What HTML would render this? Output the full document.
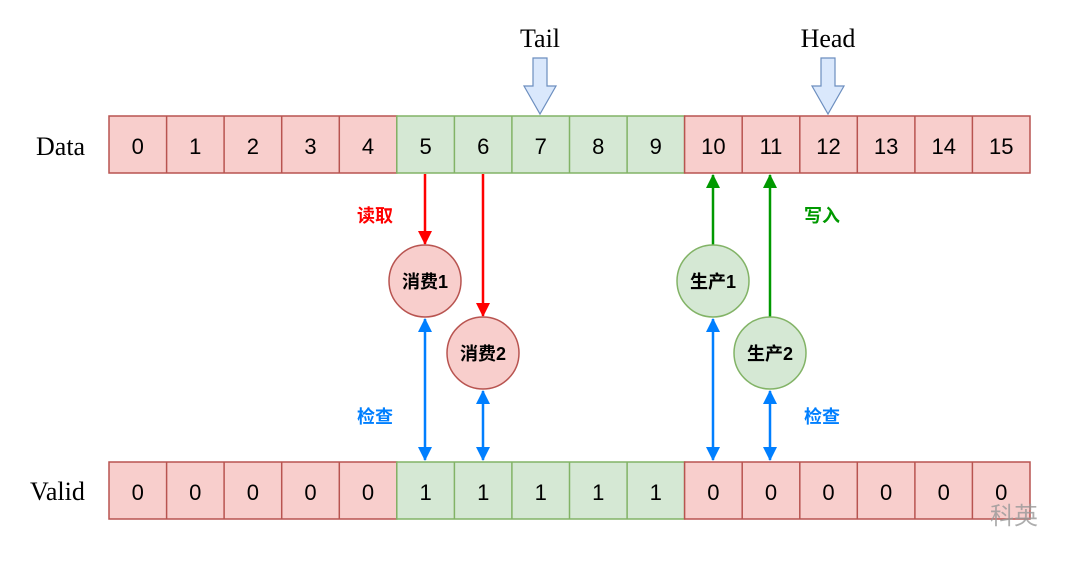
<html><body style="margin:0;background:#fff">
<svg width="1080" height="562" xmlns="http://www.w3.org/2000/svg" font-family="Liberation Sans, Noto Sans CJK SC, sans-serif">
<defs>
<marker id="r" markerWidth="14" markerHeight="14" refX="13" refY="7" orient="auto" markerUnits="userSpaceOnUse"><path d="M0,0 L14,7 L0,14z" fill="#f00"/></marker>
<marker id="g" markerWidth="14" markerHeight="14" refX="13" refY="7" orient="auto" markerUnits="userSpaceOnUse"><path d="M0,0 L14,7 L0,14z" fill="#090"/></marker>
<marker id="b" markerWidth="14" markerHeight="14" refX="13" refY="7" orient="auto-start-reverse" markerUnits="userSpaceOnUse"><path d="M0,0 L14,7 L0,14z" fill="#007fff"/></marker>
</defs>
<g stroke-width="1.5" font-size="22" text-anchor="middle">
<rect x="109" y="116" width="287.8" height="57" fill="#f8cecc" stroke="#b85450"/>
<rect x="396.8" y="116" width="287.8" height="57" fill="#d5e8d4" stroke="#82b366"/>
<rect x="684.6" y="116" width="345.4" height="57" fill="#f8cecc" stroke="#b85450"/>
<rect x="109" y="462" width="287.8" height="57" fill="#f8cecc" stroke="#b85450"/>
<rect x="396.8" y="462" width="287.8" height="57" fill="#d5e8d4" stroke="#82b366"/>
<rect x="684.6" y="462" width="345.4" height="57" fill="#f8cecc" stroke="#b85450"/>
<path d="M166.6,116V173M224.1,116V173M281.7,116V173M339.3,116V173M742.2,116V173M799.8,116V173M857.3,116V173M914.9,116V173M972.4,116V173M166.6,462V519M224.1,462V519M281.7,462V519M339.3,462V519M742.2,462V519M799.8,462V519M857.3,462V519M914.9,462V519M972.4,462V519" stroke="#b85450"/>
<path d="M454.4,116V173M511.9,116V173M569.5,116V173M627.1,116V173M454.4,462V519M511.9,462V519M569.5,462V519M627.1,462V519" stroke="#82b366"/>
<g stroke="none">
<text x="137.8" y="154">0</text><text x="195.3" y="154">1</text><text x="252.9" y="154">2</text><text x="310.5" y="154">3</text><text x="368" y="154">4</text><text x="425.6" y="154">5</text><text x="483.2" y="154">6</text><text x="540.7" y="154">7</text><text x="598.3" y="154">8</text><text x="655.8" y="154">9</text><text x="713.4" y="154">10</text><text x="771" y="154">11</text><text x="828.5" y="154">12</text><text x="886.1" y="154">13</text><text x="943.7" y="154">14</text><text x="1001.2" y="154">15</text>
<text x="137.8" y="500">0</text><text x="195.3" y="500">0</text><text x="252.9" y="500">0</text><text x="310.5" y="500">0</text><text x="368" y="500">0</text><text x="425.6" y="500">1</text><text x="483.2" y="500">1</text><text x="540.7" y="500">1</text><text x="598.3" y="500">1</text><text x="655.8" y="500">1</text><text x="713.4" y="500">0</text><text x="771" y="500">0</text><text x="828.5" y="500">0</text><text x="886.1" y="500">0</text><text x="943.7" y="500">0</text><text x="1001.2" y="500">0</text>
</g>
</g>
<text x="36" y="155" font-family="Liberation Serif, serif" font-size="26">Data</text>
<text x="30" y="500" font-family="Liberation Serif, serif" font-size="26">Valid</text>
<text x="540" y="47" text-anchor="middle" font-family="Liberation Serif, serif" font-size="26">Tail</text>
<text x="828" y="47" text-anchor="middle" font-family="Liberation Serif, serif" font-size="26">Head</text>
<path d="M533,58 H547 V86 H556 L540,114 L524,86 H533Z" fill="#dae8fc" stroke="#6c8ebf" stroke-width="1.2"/>
<path d="M821,58 H835 V86 H844 L828,114 L812,86 H821Z" fill="#dae8fc" stroke="#6c8ebf" stroke-width="1.2"/>
<g stroke-width="2.5">
<line x1="425" y1="174" x2="425" y2="244" stroke="#f00" marker-end="url(#r)"/>
<line x1="483" y1="174" x2="483" y2="316" stroke="#f00" marker-end="url(#r)"/>
<line x1="713" y1="245" x2="713" y2="175" stroke="#090" marker-end="url(#g)"/>
<line x1="770" y1="317" x2="770" y2="175" stroke="#090" marker-end="url(#g)"/>
<line x1="425" y1="319" x2="425" y2="460" stroke="#007fff" marker-start="url(#b)" marker-end="url(#b)"/>
<line x1="483" y1="391" x2="483" y2="460" stroke="#007fff" marker-start="url(#b)" marker-end="url(#b)"/>
<line x1="713" y1="319" x2="713" y2="460" stroke="#007fff" marker-start="url(#b)" marker-end="url(#b)"/>
<line x1="770" y1="391" x2="770" y2="460" stroke="#007fff" marker-start="url(#b)" marker-end="url(#b)"/>
</g>
<g font-size="18" font-weight="bold" text-anchor="middle">
<circle cx="425" cy="281" r="36" fill="#f8cecc" stroke="#b85450" stroke-width="1.5"/><text x="425" y="288">消费1</text>
<circle cx="483" cy="353" r="36" fill="#f8cecc" stroke="#b85450" stroke-width="1.5"/><text x="483" y="360">消费2</text>
<circle cx="713" cy="281" r="36" fill="#d5e8d4" stroke="#82b366" stroke-width="1.5"/><text x="713" y="288">生产1</text>
<circle cx="770" cy="353" r="36" fill="#d5e8d4" stroke="#82b366" stroke-width="1.5"/><text x="770" y="360">生产2</text>
<text x="375" y="222" fill="#f00">读取</text>
<text x="822" y="222" fill="#090">写入</text>
<text x="375" y="423" fill="#007fff">检查</text>
<text x="822" y="423" fill="#007fff">检查</text>
</g>
<text x="990" y="524" font-size="24" fill="#999" opacity="0.8">科英</text>
</svg></body></html>
